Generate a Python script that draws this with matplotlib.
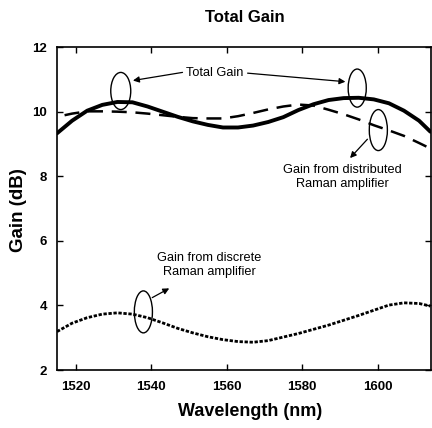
import matplotlib
matplotlib.use("Agg")
import matplotlib.pyplot as plt
from matplotlib.patches import Ellipse

plt.rcParams['font.family'] = ['Liberation Sans', 'DejaVu Sans']

wavelength = [1515, 1519, 1523, 1527, 1531, 1535, 1539, 1543, 1547, 1551, 1555, 1559, 1563,
              1567, 1571, 1575, 1579, 1583, 1587, 1591, 1595, 1599, 1603, 1607, 1611, 1614]
total_gain = [9.33, 9.72, 10.03, 10.21, 10.30, 10.29, 10.16, 10.00, 9.84, 9.70, 9.59, 9.51, 9.51,
              9.57, 9.68, 9.83, 10.05, 10.23, 10.36, 10.42, 10.43, 10.38, 10.26, 10.03, 9.72, 9.38]
dist_wavelength = [1517, 1519, 1523, 1527, 1531, 1535, 1539, 1543, 1547, 1551, 1555, 1559, 1563,
                   1567, 1571, 1575, 1579, 1583, 1587, 1591, 1595, 1599, 1603, 1607, 1611, 1614]
distributed_gain = [9.89, 9.94, 10.01, 10.01, 10.00, 9.98, 9.94, 9.89, 9.84, 9.80, 9.79, 9.79, 9.86,
                    9.96, 10.07, 10.16, 10.22, 10.19, 10.06, 9.92, 9.76, 9.58, 9.42, 9.25, 9.03, 8.86]
discrete_gain = [3.19, 3.45, 3.62, 3.73, 3.77, 3.73, 3.62, 3.46, 3.29, 3.15, 3.03, 2.94, 2.88,
                 2.86, 2.91, 3.02, 3.13, 3.26, 3.39, 3.54, 3.69, 3.85, 4.01, 4.08, 4.06, 3.98]

xticks = [1520, 1540, 1560, 1580, 1600]
yticks = [2, 4, 6, 8, 10, 12]

fig = plt.figure(figsize=(4.32, 4.28), dpi=100)
ax = fig.add_axes([0.132, 0.1355, 0.866, 0.7545])

ax.plot(wavelength, total_gain, color='black', lw=2.8, solid_capstyle='round',
        solid_joinstyle='round')
ax.plot(dist_wavelength, distributed_gain, color='black', lw=1.8, dashes=(6, 3.5),
        dash_joinstyle='round')
ax.plot(wavelength, discrete_gain, color='black', lw=2.0, dashes=(1.2, 0.6),
        dash_joinstyle='round')

ax.set_xlim(1515, 1614.2)
ax.set_ylim(2, 12)
ax.set_xticks(xticks)
ax.set_yticks(yticks)
ax.tick_params(direction='in', top=True, right=True, length=4, width=1)
ax.tick_params(axis='x', pad=8)
ax.tick_params(axis='y', pad=7)
for lab in ax.get_xticklabels() + ax.get_yticklabels():
    lab.set_fontweight('bold')
    lab.set_fontsize(9.5)
for s in ax.spines.values():
    s.set_linewidth(1.2)

fig.text(0.566, 0.960, 'Total Gain', fontsize=12, fontweight='bold', ha='center', va='center')
fig.text(0.5787, 0.0374, 'Wavelength (nm)', fontsize=13, fontweight='bold',
         ha='center', va='center')
fig.text(0.0417, 0.509, 'Gain (dB)', fontsize=13.5, fontweight='bold', rotation=90,
         ha='center', va='center')

ell_kw = dict(fill=False, edgecolor='black', lw=1.0)
ax.add_patch(Ellipse((1531.9, 10.64), 5.3, 1.15, **ell_kw))
ax.add_patch(Ellipse((1594.6, 10.73), 4.8, 1.18, **ell_kw))
ax.add_patch(Ellipse((1600.2, 9.43), 4.8, 1.27, **ell_kw))
ax.add_patch(Ellipse((1537.9, 3.80), 4.8, 1.30, **ell_kw))

arrow_kw = dict(arrowstyle='-|>', color='black', lw=0.9, mutation_scale=9)
ax.text(1556.8, 11.2, 'Total Gain', fontsize=9.2, ha='center', va='center')
ax.annotate('', xy=(1534.4, 10.95), xytext=(1549.0, 11.23), arrowprops=arrow_kw)
ax.annotate('', xy=(1592.2, 10.92), xytext=(1564.8, 11.2), arrowprops=arrow_kw)

ax.text(1590.7, 7.98, 'Gain from distributed\nRaman amplifier', fontsize=9.2,
        ha='center', va='center', linespacing=1.2)
ax.annotate('', xy=(1592.2, 8.50), xytext=(1597.8, 9.21), arrowprops=arrow_kw)

ax.text(1555.3, 5.25, 'Gain from discrete\nRaman amplifier', fontsize=9.2,
        ha='center', va='center', linespacing=1.2)
ax.annotate('', xy=(1545.4, 4.57), xytext=(1539.6, 4.20), arrowprops=arrow_kw)

fig.savefig('out.png', dpi=100)
